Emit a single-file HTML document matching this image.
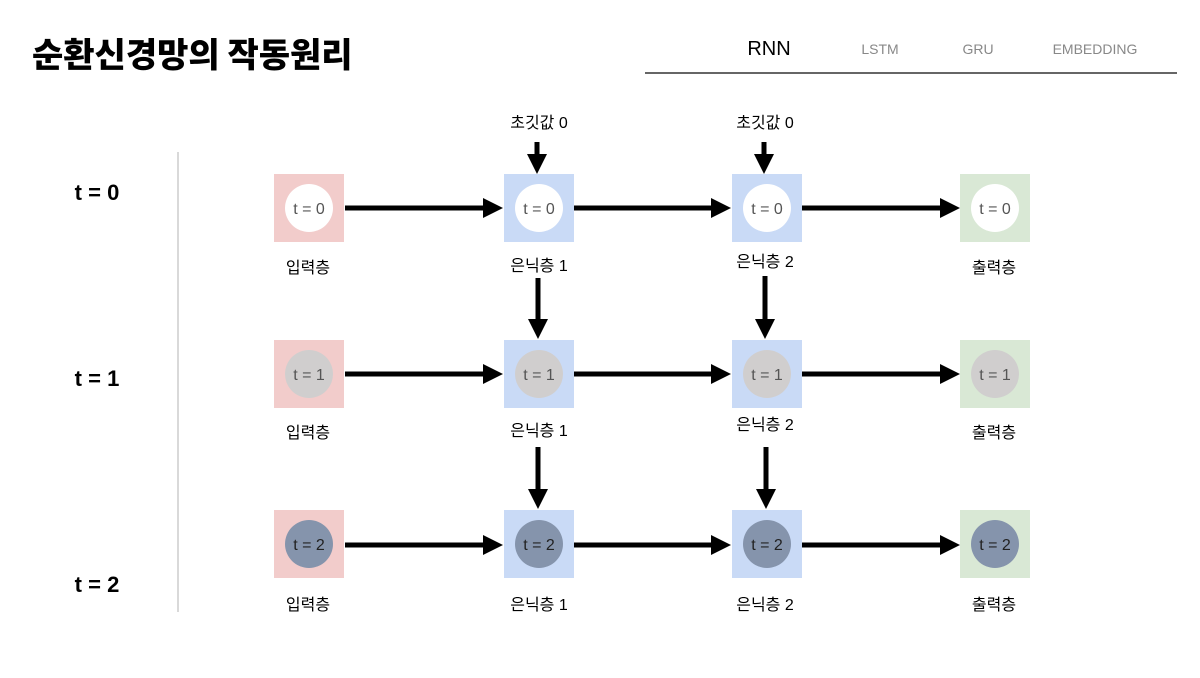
<!DOCTYPE html>
<html><head><meta charset="utf-8"><style>
body{margin:0;background:#fff;width:1200px;height:673px;overflow:hidden}
svg text{font-family:"Liberation Sans","Noto Sans CJK KR",sans-serif}
</style></head><body>
<svg width="1200" height="673" viewBox="0 0 1200 673" xmlns="http://www.w3.org/2000/svg">
<defs><marker id="a" markerWidth="4" markerHeight="4" refX="2.2" refY="2" orient="auto" markerUnits="strokeWidth"><path d="M0,0 L4,2 L0,4 z" fill="#000"/></marker></defs>
<text x="32" y="67" font-size="34" font-weight="900" fill="#000" style="font-family:'Noto Sans CJK KR',sans-serif">순환신경망의 작동원리</text>
<text x="769" y="55" font-size="20" text-anchor="middle" fill="#000">RNN</text>
<text x="880" y="54" font-size="14" text-anchor="middle" fill="#888">LSTM</text>
<text x="978" y="54" font-size="14" text-anchor="middle" fill="#888">GRU</text>
<text x="1095" y="54" font-size="14" text-anchor="middle" fill="#888">EMBEDDING</text>
<line x1="645" y1="73" x2="1177" y2="73" stroke="#333" stroke-width="1.5"/>
<line x1="178" y1="152" x2="178" y2="612" stroke="#d9d9d9" stroke-width="2"/>
<g font-size="22" font-weight="bold" text-anchor="middle" fill="#000">
<text x="97" y="200">t = 0</text><text x="97" y="386">t = 1</text><text x="97" y="592">t = 2</text></g>
<g font-size="16" text-anchor="middle" fill="#000">
<text x="539" y="128">초깃값 0</text><text x="765" y="128">초깃값 0</text></g>
<g stroke="#000" stroke-width="5" marker-end="url(#a)">
<line x1="537" y1="142" x2="537" y2="165"/><line x1="764" y1="142" x2="764" y2="165"/>
<line x1="538" y1="278" x2="538" y2="330"/><line x1="765" y1="276" x2="765" y2="330"/>
<line x1="538" y1="447" x2="538" y2="500"/><line x1="766" y1="447" x2="766" y2="500"/>
<line x1="345" y1="208" x2="494" y2="208"/><line x1="574" y1="208" x2="722" y2="208"/><line x1="802" y1="208" x2="951" y2="208"/>
<line x1="345" y1="374" x2="494" y2="374"/><line x1="574" y1="374" x2="722" y2="374"/><line x1="802" y1="374" x2="951" y2="374"/>
<line x1="345" y1="545" x2="494" y2="545"/><line x1="574" y1="545" x2="722" y2="545"/><line x1="802" y1="545" x2="951" y2="545"/>
</g>
<g id="r0">
<rect x="274" y="174" width="70" height="68" fill="#f2cccb"/><rect x="504" y="174" width="70" height="68" fill="#c9daf6"/>
<rect x="732" y="174" width="70" height="68" fill="#c9daf6"/><rect x="960" y="174" width="70" height="68" fill="#d9e8d5"/>
<rect x="274" y="340" width="70" height="68" fill="#f2cccb"/><rect x="504" y="340" width="70" height="68" fill="#c9daf6"/>
<rect x="732" y="340" width="70" height="68" fill="#c9daf6"/><rect x="960" y="340" width="70" height="68" fill="#d9e8d5"/>
<rect x="274" y="510" width="70" height="68" fill="#f2cccb"/><rect x="504" y="510" width="70" height="68" fill="#c9daf6"/>
<rect x="732" y="510" width="70" height="68" fill="#c9daf6"/><rect x="960" y="510" width="70" height="68" fill="#d9e8d5"/>
</g>
<g fill="#fff"><circle cx="309" cy="208" r="24"/><circle cx="539" cy="208" r="24"/><circle cx="767" cy="208" r="24"/><circle cx="995" cy="208" r="24"/></g>
<g fill="#d0cece"><circle cx="309" cy="374" r="24"/><circle cx="539" cy="374" r="24"/><circle cx="767" cy="374" r="24"/><circle cx="995" cy="374" r="24"/></g>
<g fill="#8594ac"><circle cx="309" cy="544" r="24"/><circle cx="539" cy="544" r="24"/><circle cx="767" cy="544" r="24"/><circle cx="995" cy="544" r="24"/></g>
<g font-size="16" text-anchor="middle" fill="#555">
<text x="309" y="214">t = 0</text><text x="539" y="214">t = 0</text><text x="767" y="214">t = 0</text><text x="995" y="214">t = 0</text>
<text x="309" y="380">t = 1</text><text x="539" y="380">t = 1</text><text x="767" y="380">t = 1</text><text x="995" y="380">t = 1</text>
</g>
<g font-size="16" text-anchor="middle" fill="#222">
<text x="309" y="550">t = 2</text><text x="539" y="550">t = 2</text><text x="767" y="550">t = 2</text><text x="995" y="550">t = 2</text></g>
<g font-size="16" text-anchor="middle" fill="#000">
<text x="308" y="273">입력층</text><text x="539" y="271">은닉층 1</text><text x="765" y="267">은닉층 2</text><text x="994" y="273">출력층</text>
<text x="308" y="438">입력층</text><text x="539" y="436">은닉층 1</text><text x="765" y="430">은닉층 2</text><text x="994" y="438">출력층</text>
<text x="308" y="610">입력층</text><text x="539" y="610">은닉층 1</text><text x="765" y="610">은닉층 2</text><text x="994" y="610">출력층</text>
</g>
</svg>
</body></html>
